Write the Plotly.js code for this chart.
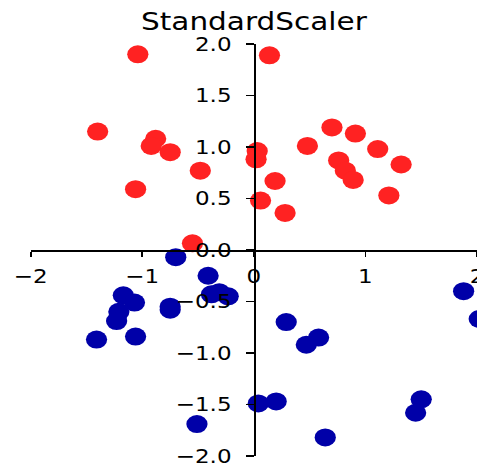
<!DOCTYPE html>
<html>
<head>
<meta charset="utf-8">
<script src="https://cdn.plot.ly/plotly-3.0.1.min.js"></script>
<style>
html, body { margin: 0; padding: 0; background: #fff; overflow: hidden; }
#wrap { width: 477px; height: 465px; overflow: hidden; }
#chart { width: 404px; height: 465px; transform: scaleX(1.1807); transform-origin: 0 0; }
</style>
</head>
<body>
<div id="wrap"><div id="chart"></div></div>
<script>
const title = "StandardScaler";
const redX = [-1.04, 0.14, -1.40, -0.88, -0.92, -0.75, -0.48, -1.06, -0.55, 0.03, 0.02, 0.48, 0.70, 0.91, 1.11, 1.32, 0.76, 0.82, 0.89, 1.21, 0.19, 0.06, 0.28];
const redY = [1.90, 1.89, 1.15, 1.08, 1.01, 0.95, 0.77, 0.59, 0.065, 0.96, 0.88, 1.01, 1.19, 1.13, 0.98, 0.83, 0.87, 0.77, 0.68, 0.53, 0.67, 0.48, 0.36];
const blueX = [-0.70, -0.41, -1.17, -1.07, -1.21, -1.23, -1.41, -1.06, -0.75, -0.75, -0.38, -0.31, -0.23, 0.29, 0.58, 0.47, 0.04, 0.20, -0.51, 0.64, 1.50, 1.45, 1.88, 2.02];
const blueY = [-0.07, -0.25, -0.44, -0.51, -0.60, -0.69, -0.87, -0.84, -0.55, -0.58, -0.43, -0.41, -0.45, -0.70, -0.85, -0.92, -1.49, -1.47, -1.69, -1.82, -1.45, -1.58, -0.40, -0.67];
const xTicks = [-2, -1, 0, 1, 2];
const yTicks = [-2.0, -1.5, -1.0, -0.5, 0.0, 0.5, 1.0, 1.5, 2.0];

const traces = [
  { x: redX, y: redY, type: 'scatter', mode: 'markers',
    marker: { color: '#ff2222', size: 18, line: { width: 0 } }, hoverinfo: 'skip' },
  { x: blueX, y: blueY, type: 'scatter', mode: 'markers',
    marker: { color: '#0000a8', size: 18, line: { width: 0 } }, hoverinfo: 'skip' }
];

const tickFont = { family: 'DejaVu Sans', size: 19.5, color: '#000' };
const layout = {
  width: 404, height: 465,
  margin: { l: 26, r: 0, t: 44, b: 9 },
  paper_bgcolor: '#fff', plot_bgcolor: 'rgba(0,0,0,0)',
  showlegend: false,
  title: { text: title, font: { family: 'DejaVu Sans', size: 25, color: '#000' },
           x: 0.5323, xanchor: 'center', y: 0.954, yanchor: 'middle', yref: 'container' },
  xaxis: {
    range: [-2, 2], anchor: 'free', position: 0.5,
    showgrid: false, zeroline: false, showline: true, linecolor: '#000', linewidth: 1.5,
    ticks: 'outside', ticklen: 5, tickwidth: 1.5, tickcolor: '#000',
    tickvals: xTicks, ticktext: xTicks.map(v => String(v).replace('-', '\u2212')),
    tickfont: tickFont, ticklabelstandoff: 3, ticklabeloverflow: 'allow'
  },
  yaxis: {
    range: [-2, 2], anchor: 'free', position: 0.5,
    showgrid: false, zeroline: false, showline: true, linecolor: '#000', linewidth: 1.5,
    ticks: 'outside', ticklen: 7, tickwidth: 1.5, tickcolor: '#000',
    tickvals: yTicks, ticktext: yTicks.map(v => v.toFixed(1).replace('-', '\u2212')),
    tickfont: tickFont, ticklabelstandoff: 8, ticklabeloverflow: 'allow'
  }
};
Plotly.newPlot('chart', traces, layout, { displayModeBar: false, staticPlot: true });
</script>
</body>
</html>
